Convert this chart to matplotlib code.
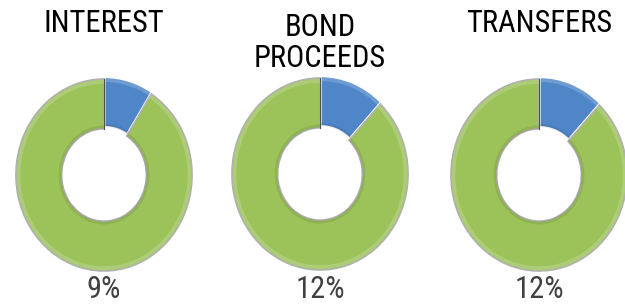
import matplotlib
matplotlib.use("Agg")
import matplotlib.pyplot as plt
from matplotlib import font_manager
from matplotlib.patches import Wedge

titles = ["INTEREST", "BOND\nPROCEEDS", "TRANSFERS"]
shares = [9, 12, 12]          # percent (blue slice)
labels = ["9%", "12%", "12%"]

blue = "#4F86C8"
green = "#9CC25A"

names = {f.name for f in font_manager.fontManager.ttflist}
fam = "DejaVu Sans"
for cand in ["Liberation Sans Narrow", "Arimo Narrow", "Roboto Condensed",
             "Archivo Narrow", "PT Sans Narrow", "Open Sans Condensed"]:
    if cand in names:
        fam = cand
        break

W, H = 625, 304
fig = plt.figure(figsize=(W / 100, H / 100), dpi=100)

centers = [(104, 175), (320, 174), (539, 175)]
title_y = [23, 43, 23]
rx, ry = 89, 97

for (cx, cy), t, s, lab, ty in zip(centers, titles, shares, labels, title_y):
    ax = fig.add_axes([(cx - rx) / W, (H - (cy + ry)) / H, 2 * rx / W, 2 * ry / H])
    wedges, _ = ax.pie([s, 100 - s], colors=[blue, green], startangle=90,
                       counterclock=False, explode=[0.02, 0],
                       wedgeprops=dict(width=0.52))
    wedges[1].set_edgecolor("#b0b0b0")
    wedges[1].set_linewidth(1.1)
    wedges[0].set_edgecolor("white")
    wedges[0].set_linewidth(1.5)
    # subtle bevel shading
    for w in wedges:
        cen = w.center
        ax.add_patch(Wedge(cen, w.r - w.width + 0.035, w.theta1, w.theta2, width=0.035,
                           facecolor="black", alpha=0.08, lw=0))
        ax.add_patch(Wedge(cen, w.r - 0.01, w.theta1, w.theta2, width=0.04,
                           facecolor="white", alpha=0.18, lw=0))
    ax.plot([0, 0], [0.48, 1.0], color="#505050", lw=0.8)
    ax.set_aspect("auto")
    ax.set_xlim(-1.01, 1.01)
    ax.set_ylim(-1.01, 1.01)
    ax.axis("off")
    fig.text(cx / W, 1 - ty / H, t, ha="center", va="center", fontsize=22,
             family=fam, color="black", linespacing=1.1)
    fig.text(cx / W, 1 - 289 / H, lab, ha="center", va="center", fontsize=22,
             family=fam, color="#404040")

fig.savefig("out.png", dpi=100)
